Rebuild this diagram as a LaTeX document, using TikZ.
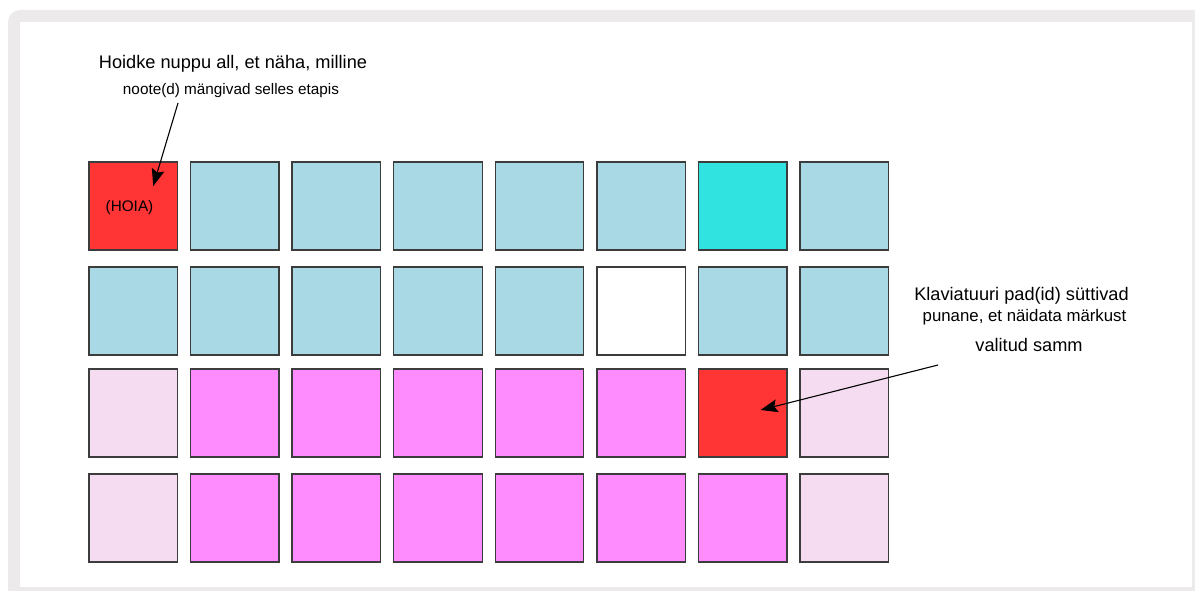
\documentclass[tikz,border=0pt]{standalone}
\usepackage{fontspec}
\setmainfont{Liberation Sans}
\usetikzlibrary{arrows.meta, positioning, calc}

\definecolor{frame}{HTML}{ECEAEA}
\definecolor{padblue}{HTML}{A9D9E4}
\definecolor{padcyan}{HTML}{30E3E0}
\definecolor{padred}{HTML}{FF3535}
\definecolor{padpink}{HTML}{FF8CFF}
\definecolor{padpale}{HTML}{F5DCF0}
\definecolor{padedge}{HTML}{3C3C3C}

\tikzset{
  pad/.style={draw=padedge, line width=1.3pt, minimum width=88.5pt, minimum height=88pt, inner sep=0pt},
  note/.style={font=\fontsize{18.2}{21}\selectfont, inner sep=0pt},
  smallnote/.style={font=\fontsize{15.3}{18}\selectfont, inner sep=0pt},
  pointer/.style={line width=1.1pt, -{Stealth[length=17pt, width=13pt, inset=3pt]}}
}

\begin{document}
\begin{tikzpicture}[x=1pt, y=-1pt]
  \useasboundingbox (0,0) rectangle (1195,591);
  % frame
  \fill[frame, rounded corners=12pt] (8,10) rectangle (1215,611);
  \fill[white] (20,22) rectangle (1192,587);

  % pads
  \foreach \r/\y in {1/206, 2/311, 3/413, 4/518} {
    \foreach \c in {1,...,8} {
      \node[pad, fill=padblue] (p\r\c) at ({133.25+101.57*(\c-1)}, \y) {};
    }
  }
  % pads with other colours
  \foreach \c in {2,...,7} {
    \node[pad, fill=padpink] at (p3\c) {};
    \node[pad, fill=padpink] at (p4\c) {};
  }
  \foreach \r in {3,4} {
    \node[pad, fill=padpale] at (p\r1) {};
    \node[pad, fill=padpale] at (p\r8) {};
  }
  \node[pad, fill=padred] at (p11) {};
  \node[pad, fill=padcyan] at (p17) {};
  \node[pad, fill=white] at (p26) {};
  \node[pad, fill=padred] at (p37) {};
  \node[smallnote] (hold) at (129.5,208) {(HOIA)};

  % left note
  \node[note] (holdtxt) at (233,64) {Hoidke nuppu all, et näha, milline};
  \node[smallnote, below=10.5pt of holdtxt, xshift=-2pt] (holdtxt2) {noote(d) mängivad selles etapis};
  \coordinate (holdstart) at (178,103);
  \coordinate (holdtip) at ($(p11)+(20,-20)$);
  \draw[pointer] (holdstart) -- (holdtip);

  % right note
  \node[note] (keytxt) at (1021.5,296) {Klaviatuuri pad(id) süttivad};
  \node[note, font=\fontsize{16.8}{20}\selectfont, below=4.5pt of keytxt, xshift=3pt] (keytxt2) {punane, et näidata märkust};
  \node[note, below=12.5pt of keytxt2, xshift=4.5pt] (keytxt3) {valitud samm};
  \coordinate (keystart) at (938,365);
  \coordinate (keytip) at ($(p37)+(18,-3)$);
  \draw[pointer] (keystart) -- (keytip);
\end{tikzpicture}
\end{document}
